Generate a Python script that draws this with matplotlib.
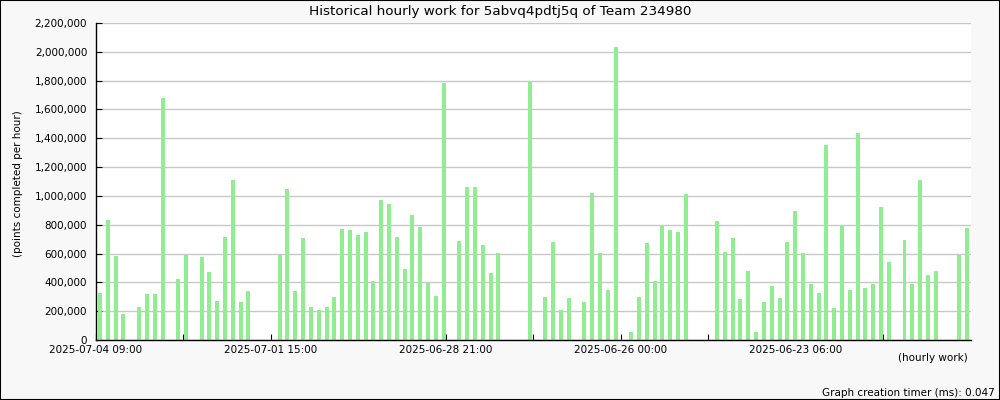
import matplotlib
matplotlib.use("Agg")
import matplotlib.pyplot as plt
from matplotlib.patches import Rectangle
from matplotlib.ticker import StrMethodFormatter

# points completed per slot, newest on the left (0 = no bar)
points = [
    325000, 835000, 585000, 180000, 0, 230000, 320000, 320000, 1680000, 0,
    425000, 590000, 0, 575000, 470000, 270000, 715000, 1110000, 265000, 340000,
    0, 0, 0, 590000, 1045000, 340000, 705000, 230000, 210000, 230000,
    300000, 770000, 760000, 730000, 750000, 410000, 975000, 945000, 715000, 495000,
    870000, 785000, 395000, 305000, 1785000, 0, 690000, 1060000, 1060000, 660000,
    465000, 605000, 0, 0, 0, 1795000, 0, 300000, 680000, 210000,
    290000, 0, 265000, 1020000, 605000, 345000, 2035000, 0, 55000, 300000,
    675000, 410000, 795000, 765000, 750000, 1010000, 0, 0, 0, 825000,
    610000, 705000, 285000, 480000, 55000, 265000, 375000, 290000, 680000, 895000,
    605000, 390000, 325000, 1350000, 220000, 790000, 345000, 1435000, 360000, 390000,
    920000, 540000, 0, 695000, 390000, 1110000, 450000, 480000, 0, 0,
    590000, 775000,
]

# x tick labels, every other tick is unlabeled
tick_labels = ["2025-07-04 09:00", "", "2025-07-01 15:00", "", "2025-06-28 21:00", "",
               "2025-06-26 00:00", "", "2025-06-23 06:00", ""]

title = "Historical hourly work for 5abvq4pdtj5q of Team 234980"

fig = plt.figure(figsize=(10, 4), dpi=100, facecolor="#f8f8f8")
ax = fig.add_axes([0.0955, 0.15, 0.875, 0.7925])
ax.set_facecolor("white")

slots = range(len(points))
ax.bar(slots, points, width=0.51, color="#90ee90", zorder=2)

ax.set_xlim(-0.58, 111.45)
ax.set_ylim(0, 2200000)
ax.set_yticks(range(0, 2200001, 200000))
ax.yaxis.set_major_formatter(StrMethodFormatter("{x:,.0f}"))

tick_pos = [-0.55 + 11.2 * k for k in range(len(tick_labels))]
ax.set_xticks(tick_pos)
ax.set_xticklabels(tick_labels)

ax.grid(axis="y", color="#c8c8c8", linewidth=1.0, zorder=1)
ax.set_axisbelow(True)
for side in ["top", "right"]:
    ax.spines[side].set_visible(False)
for side in ["left", "bottom"]:
    ax.spines[side].set_color("black")
    ax.spines[side].set_linewidth(1.0)

ax.tick_params(axis="y", direction="in", length=4, width=0.8, labelsize=7.5, pad=6)
ax.tick_params(axis="x", direction="in", length=4, width=0.8, labelsize=7.5, pad=3.6)

fig.text(0.5, 1 - 12 / 400, title, ha="center", va="center", fontsize=9.7)
fig.text(0.018, 1 - 184 / 400, "(points completed per hour)", rotation=90,
         ha="center", va="center", fontsize=7.5)
fig.text(0.968, 1 - 358 / 400, "(hourly work)", ha="right", va="center", fontsize=7.5)
fig.text(0.995, 1 - 393 / 400, "Graph creation timer (ms): 0.047", ha="right",
         va="center", fontsize=7.5)

# thin black frame around the whole picture
fig.patches.append(Rectangle((0, 0), 1, 1, transform=fig.transFigure, fill=False,
                             edgecolor="black", linewidth=1.5))

fig.savefig("out.png", dpi=100, facecolor=fig.get_facecolor())
